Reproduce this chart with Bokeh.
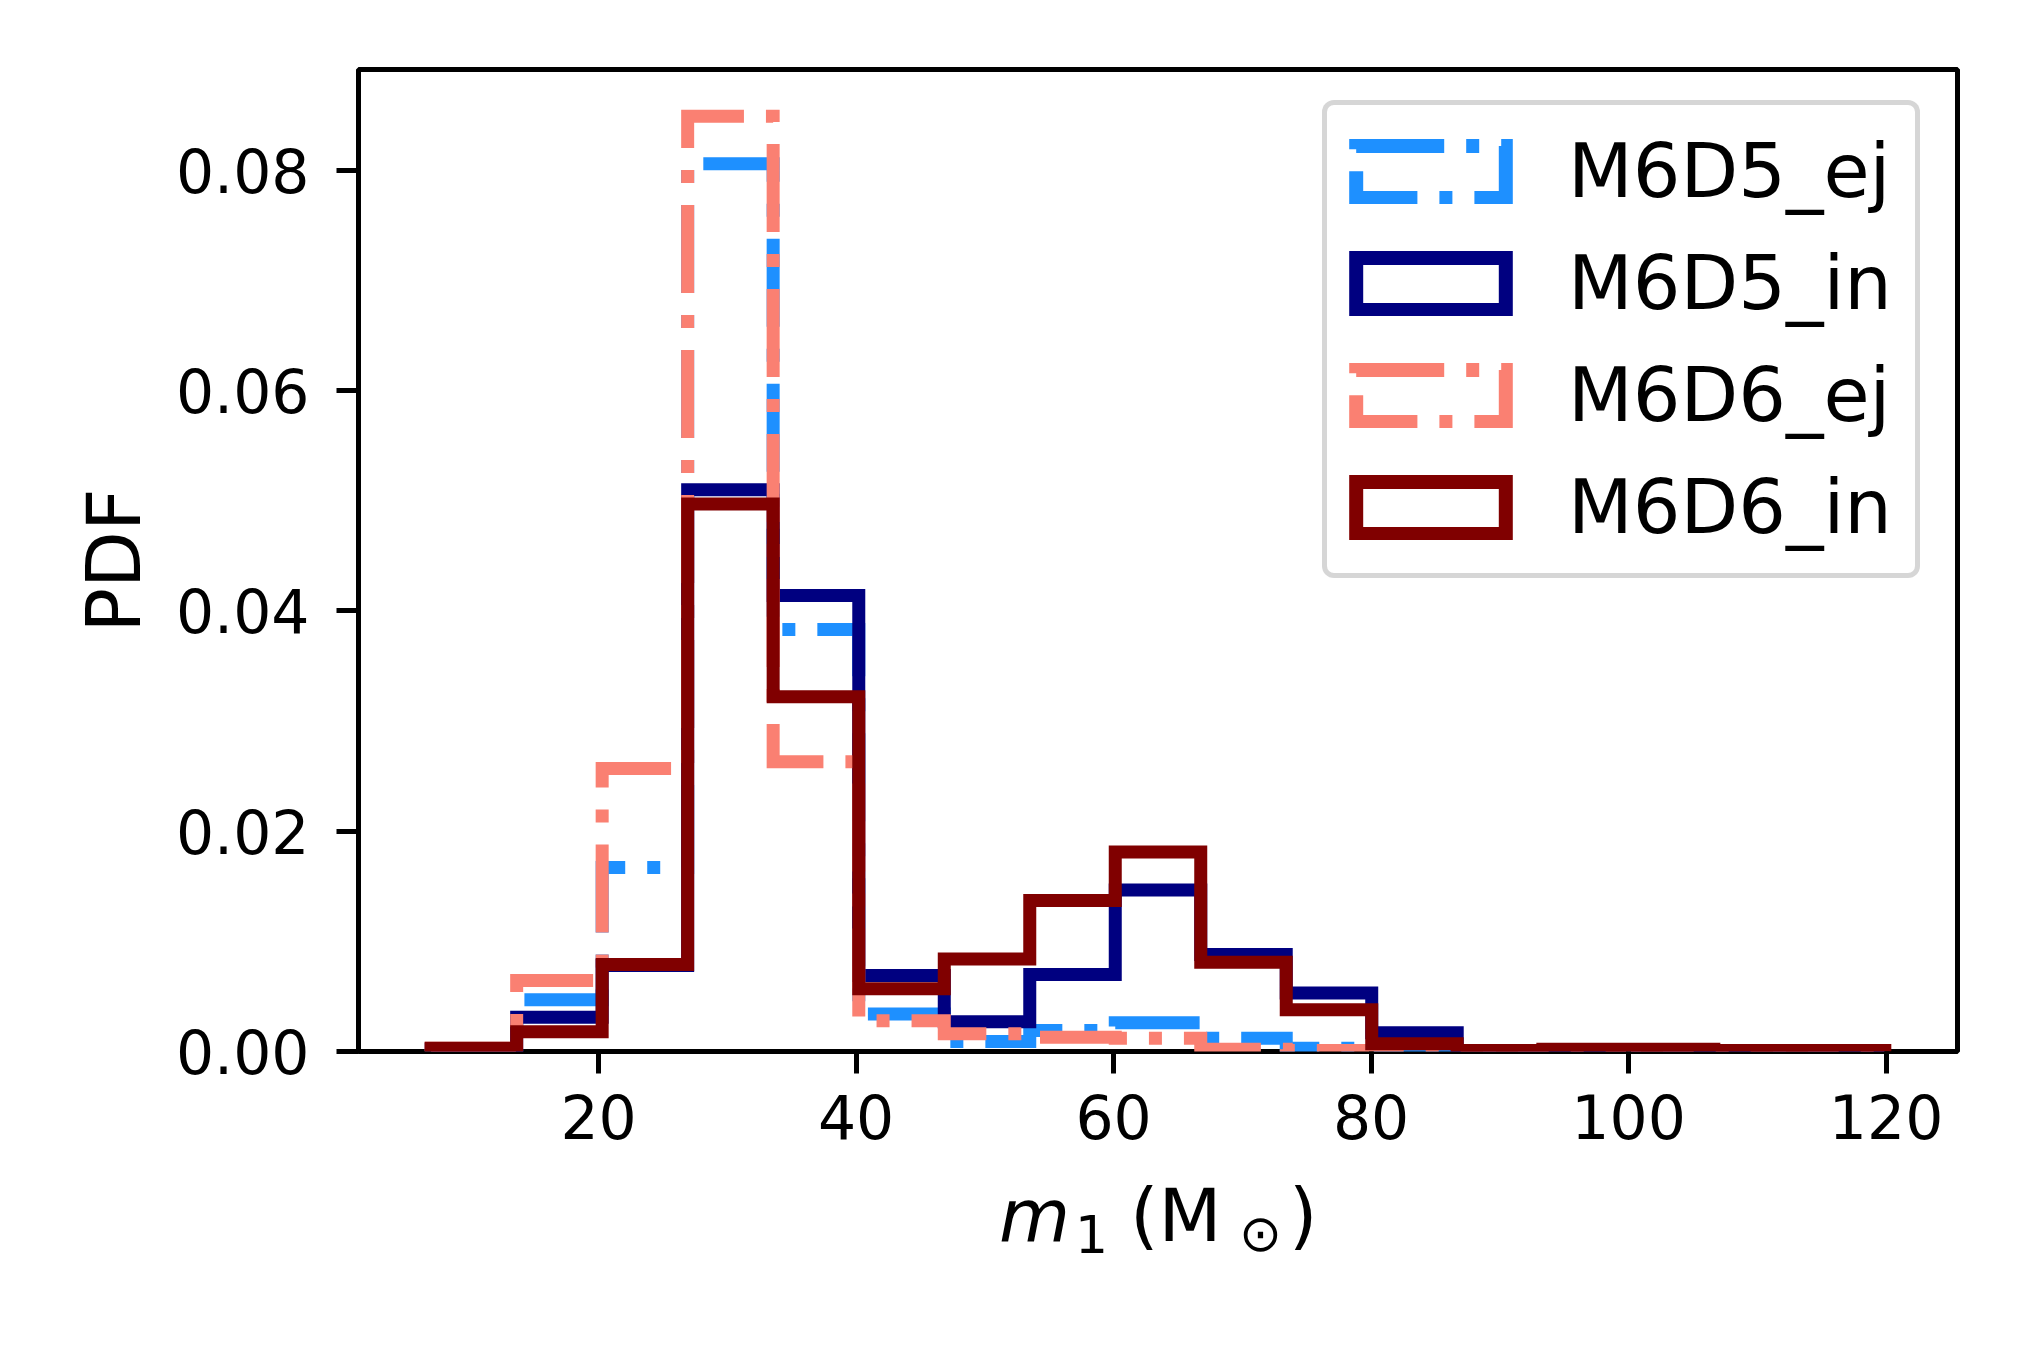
from bokeh.plotting import figure
from bokeh.models import Range1d, FixedTicker, PrintfTickFormatter, Legend, LegendItem, Div
from bokeh.layouts import column
from bokeh.embed import file_html
from bokeh.resources import INLINE

# ---------------- data ----------------
bin_edges = [7.0, 13.64, 20.28, 26.92, 33.56, 40.21, 46.85, 53.49, 60.13,
             66.77, 73.41, 80.05, 86.69, 93.34, 99.98, 106.62, 113.26, 119.9]

series_names = ["M6D5_ej", "M6D5_in", "M6D6_ej", "M6D6_in"]

m6d5_ej = [0.0, 0.0047, 0.0167, 0.0806, 0.0383, 0.0034, 0.0009, 0.0019, 0.0026,
           0.0012, 0.0003, 0.0, 0.0, 0.0, 0.0, 0.0, 0.0]
m6d5_in = [0.0002, 0.0031, 0.0078, 0.0510, 0.0414, 0.0069, 0.0027, 0.0070, 0.01465,
           0.0088, 0.0053, 0.0017, 0.0, 0.0, 0.0, 0.0, 0.0]
m6d6_ej = [0.0003, 0.00645, 0.0257, 0.0849, 0.0263, 0.0028, 0.0016, 0.0013, 0.0012,
           0.0002, 0.0001, 0.0, 0.0, 0.0, 0.0, 0.0, 0.0]
m6d6_in = [0.0003, 0.0018, 0.0079, 0.0497, 0.0322, 0.0057, 0.0084, 0.0137, 0.0181,
           0.0081, 0.0038, 0.0007, 0.0001, 0.0002, 0.0002, 0.0001, 0.0001]

x_ticks = [20, 40, 60, 80, 100, 120]
y_ticks = [0.0, 0.02, 0.04, 0.06, 0.08]

colors = ["#1E90FF", "#000080", "#FA8072", "#800000"]
dashes = ["88 22 13 22", "solid", "88 22 13 22", "solid"]
all_vals = [m6d5_ej, m6d5_in, m6d6_ej, m6d6_in]


def step_path(edges, vals):
    xs = [edges[0]]
    ys = [0.0]
    for i, v in enumerate(vals):
        xs += [edges[i], edges[i + 1]]
        ys += [v, v]
    xs.append(edges[-1])
    ys.append(0.0)
    return xs, ys


span = bin_edges[-1] - bin_edges[0]
x_lo = bin_edges[0] - 0.05 * span
x_hi = bin_edges[-1] + 0.05 * span
y_hi = max(max(v) for v in all_vals) * 1.05

FONT = "DejaVu Sans"

p = figure(frame_width=1599, frame_height=982,
           min_border_left=358, min_border_right=56, min_border_top=69, min_border_bottom=117,
           x_range=Range1d(x_lo, x_hi), y_range=Range1d(0, y_hi),
           output_backend="svg", toolbar_location=None,
           background_fill_color="white", border_fill_color="white")
p.grid.visible = False
p.outline_line_color = "black"
p.outline_line_width = 5
p.outline_line_alpha = 1.0

for ax in (p.xaxis[0], p.yaxis[0]):
    ax.axis_line_color = None
    ax.major_tick_line_color = "black"
    ax.major_tick_line_width = 5
    ax.major_tick_out = 22
    ax.major_tick_in = 0
    ax.minor_tick_line_color = None
    ax.major_label_text_font = FONT
    ax.major_label_text_font_size = "60px"
    ax.major_label_text_color = "black"

p.xaxis.ticker = FixedTicker(ticks=x_ticks)
p.yaxis.ticker = FixedTicker(ticks=y_ticks)
p.yaxis.formatter = PrintfTickFormatter(format="%.2f")
p.xaxis.major_label_standoff = 20
p.yaxis.major_label_standoff = 27

p.yaxis.axis_label = "PDF"
p.yaxis.axis_label_text_font = FONT
p.yaxis.axis_label_text_font_size = "74px"
p.yaxis.axis_label_text_font_style = "normal"
p.yaxis.axis_label_text_color = "black"
p.yaxis.axis_label_standoff = 16

# histogram outlines
for name, vals, c, d in zip(series_names, all_vals, colors, dashes):
    xs, ys = step_path(bin_edges, vals)
    p.line(xs, ys, line_color=c, line_width=13, line_dash=d, line_join="miter")

# legend proxies (rectangle outlines, like matplotlib step-hist legend patches)
nan = float("nan")
items = []
for name, c, d in zip(series_names, colors, dashes):
    r = p.quad(left=[nan], right=[nan], top=[nan], bottom=[nan], fill_alpha=0, line_color=c,
               line_width=14, line_dash=d, line_join="miter")
    items.append(LegendItem(label=name, renderers=[r]))

legend = Legend(items=items, location=(964, 473),
                label_text_font=FONT, label_text_font_size="75px", label_text_color="black",
                glyph_width=187, glyph_height=65, label_standoff=44,
                label_height=112, label_width=337,
                padding=10, spacing=0, margin=0,
                border_line_color="#cccccc", border_line_alpha=0.8, border_line_width=5,
                background_fill_color="white", background_fill_alpha=0.8)
if "border_radius" in Legend.properties():
    legend.border_radius = 12
p.add_layout(legend, "center")

# x-axis label: m_1 (M_sun) as real text, placed under the axis
fig_w = 358 + 1599 + 56
pieces = [
    # (text, left px, top px, font px, style)
    ("m", 994, 6, 73, "italic"),
    ("1", 1070, 36, 52, "normal"),
    ("(M", 1125, 6, 73, "normal"),
    ("\u2299", 1234, 35, 51, "normal"),
    (")", 1284, 6, 73, "normal"),
]
spans = "".join(
    f'<span style="position:absolute;left:{x}px;top:{y}px;font-size:{s}px;'
    f'font-style:{st};line-height:1;white-space:nowrap;">{t}</span>'
    for t, x, y, s, st in pieces
)
xlabel_html = (f'<div style="position:relative;width:{fig_w}px;height:120px;'
               f'font-family:\'DejaVu Sans\';color:black;">{spans}</div>')
xlabel = Div(text=xlabel_html, width=fig_w, height=120)

layout = column(p, xlabel, spacing=0)
open("out.html", "w").write(file_html(layout, INLINE))
